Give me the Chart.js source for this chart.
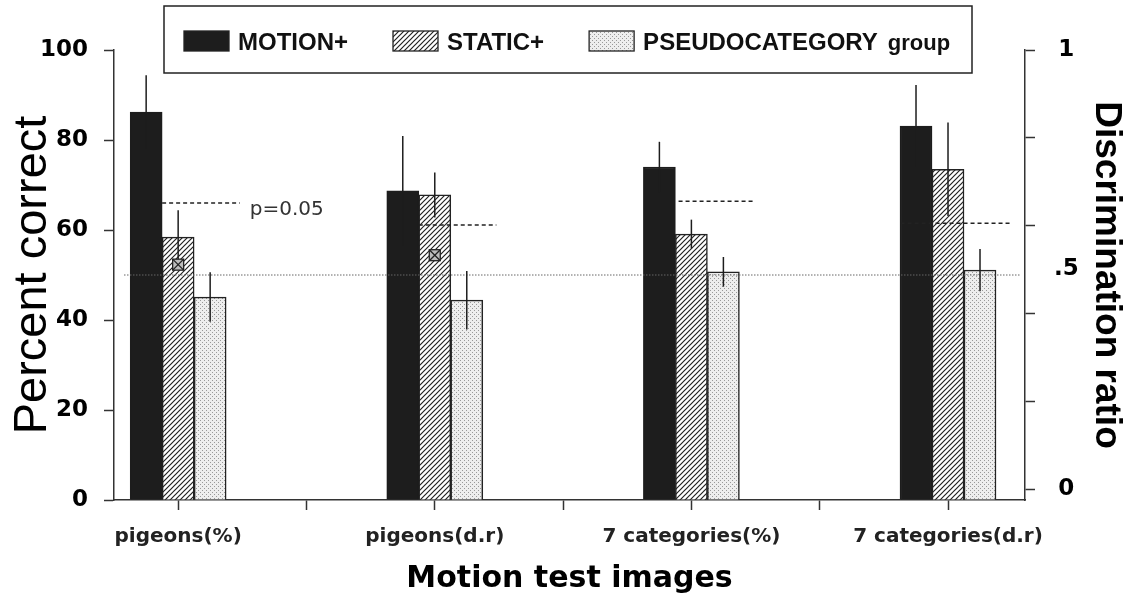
<!DOCTYPE html>
<html lang="en">
<head>
<meta charset="UTF-8">
<title>Motion test images</title>
<script src="https://cdn.jsdelivr.net/npm/chart.js"></script>
<style>
  html, body { margin: 0; padding: 0; background: #fff; }
</style>
</head>
<body>
<canvas id="chart" width="1140" height="601"></canvas>
<script>
// values (percent axis units)
const categories = ['pigeons(%)', 'pigeons(d.r)', '7 categories(%)', '7 categories(d.r)'];
const motionPlus = [86.2, 68.7, 74.0, 83.1];
const motionErr = [8.2, 12.2, 5.6, 9.1];
const staticPlus = [58.4, 67.8, 59.1, 73.5];
const staticErr = [6.0, 5.0, 3.2, 10.4];
const pseudoGroup = [45.1, 44.4, 50.7, 51.1];
const pseudoErr = [5.5, 6.5, 3.3, 4.7];
const pCritical = [66.0, 61.1, 66.4, 61.5];
const staticMarks = [52.3, 54.4, null, null];
const chanceLevel = 50;
const leftTicks = [0, 20, 40, 60, 80, 100];
const rightTicks = [0, 0.2, 0.4, 0.5, 0.6, 0.8, 1];
const rightLabels = { 0: '0', 0.5: '.5', 1: '1' };

const ctx = document.getElementById('chart').getContext('2d');

// fills for the two patterned bars
function makeHatch() {
    const c = document.createElement('canvas');
    c.width = 5; c.height = 5;
    const g = c.getContext('2d');
    g.fillStyle = '#fff';
    g.fillRect(0, 0, 5, 5);
    g.strokeStyle = '#222';
    g.lineWidth = 1.2;
    g.beginPath();
    g.moveTo(-1, 6); g.lineTo(6, -1);
    g.moveTo(-1, 1); g.lineTo(1, -1);
    g.moveTo(4, 6); g.lineTo(6, 4);
    g.stroke();
    return ctx.createPattern(c, 'repeat');
}

function makeDots() {
    const c = document.createElement('canvas');
    c.width = 4; c.height = 4;
    const g = c.getContext('2d');
    g.fillStyle = '#eeeeee';
    g.fillRect(0, 0, 4, 4);
    g.fillStyle = '#999';
    g.fillRect(0, 0, 1, 1);
    g.fillRect(2, 2, 1, 1);
    return ctx.createPattern(c, 'repeat');
}

const hatch = makeHatch();
const dots = makeDots();

// groups sit on every second slot of the x axis
const toPoints = vals => vals.map((v, i) => ({ x: i * 2, y: v }));
const slotTicks = Array.from({ length: categories.length * 2 - 1 }, (_, i) => i);

// where each p=0.05 dash starts, in slot units from the group centre
const dashFrom = [-0.125, -0.125, -0.1, -0.37];

function line(c, x1, y1, x2, y2) {
    c.beginPath();
    c.moveTo(x1, y1);
    c.lineTo(x2, y2);
    c.stroke();
}

const overlay = {
    id: 'overlay',
    beforeDraw(chart) {
        const c = chart.ctx;
        c.save();
        c.fillStyle = '#fff';
        c.fillRect(0, 0, chart.width, chart.height);
        c.restore();
    },
    afterDatasetsDraw(chart) {
        const c = chart.ctx;
        const area = chart.chartArea;
        const x = chart.scales.x, y = chart.scales.y;
        const unit = x.getPixelForValue(1) - x.getPixelForValue(0);
        c.save();

        // chance level
        c.strokeStyle = '#666';
        c.lineWidth = 1;
        c.setLineDash([1.5, 1.5]);
        const yc = y.getPixelForValue(chanceLevel);
        line(c, area.left + 10, yc, area.right - 4, yc);

        // p = 0.05 criteria
        c.strokeStyle = '#222';
        c.lineWidth = 1.5;
        c.setLineDash([4, 3]);
        pCritical.forEach((v, i) => {
            const cx = x.getPixelForValue(i * 2);
            const yp = y.getPixelForValue(v);
            line(c, cx + dashFrom[i] * unit, yp, cx + 0.48 * unit, yp);
        });
        c.setLineDash([]);
        c.fillStyle = '#333';
        c.font = '20px "DejaVu Sans"';
        c.textAlign = 'left';
        c.textBaseline = 'alphabetic';
        c.fillText('p=0.05', x.getPixelForValue(0) + 0.48 * unit + 10, y.getPixelForValue(pCritical[0]) + 12);

        // error bars
        c.strokeStyle = '#1d1d1d';
        c.lineWidth = 1.5;
        chart.data.datasets.forEach((ds, di) => {
            chart.getDatasetMeta(di).data.forEach((bar, i) => {
                const v = ds.data[i].y, e = ds.errors[i];
                line(c, bar.x, y.getPixelForValue(v + e), bar.x, y.getPixelForValue(v - e));
            });
        });

        // small boxed crosses on the STATIC+ bars
        const staticMeta = chart.getDatasetMeta(1);
        staticMarks.forEach((v, i) => {
            if (v === null) return;
            const px = staticMeta.data[i].x, py = y.getPixelForValue(v);
            const h = 5.5;
            c.fillStyle = '#bdbdbd';
            c.fillRect(px - h, py - h, 2 * h, 2 * h);
            c.strokeStyle = '#222';
            c.lineWidth = 1.3;
            c.strokeRect(px - h, py - h, 2 * h, 2 * h);
            line(c, px - h, py - h, px + h, py + h);
            line(c, px - h, py + h, px + h, py - h);
        });
        c.restore();
    },
    afterDraw(chart) {
        // boxed legend across the top
        const c = chart.ctx;
        const box = { left: 164, top: 6, right: 972, bottom: 73 };
        c.save();
        c.fillStyle = '#fff';
        c.fillRect(box.left, box.top, box.right - box.left, box.bottom - box.top);
        c.strokeStyle = '#222';
        c.lineWidth = 1.5;
        c.strokeRect(box.left, box.top, box.right - box.left, box.bottom - box.top);
        let xp = box.left + 20;
        c.textAlign = 'left';
        c.textBaseline = 'alphabetic';
        chart.data.datasets.forEach(ds => {
            c.fillStyle = ds.backgroundColor;
            c.fillRect(xp, 31, 45, 20);
            c.lineWidth = 1.3;
            c.strokeRect(xp, 31, 45, 20);
            xp += 54;
            const words = ds.label.split(' ');
            c.fillStyle = '#111';
            c.font = 'bold 24px "Liberation Sans"';
            c.fillText(words[0], xp, 50);
            xp += c.measureText(words[0]).width;
            if (words.length > 1) {
                const rest = words.slice(1).join(' ');
                c.font = 'bold 22px "Liberation Sans"';
                xp += 10;
                c.fillText(rest, xp, 50);
                xp += c.measureText(rest).width;
            }
            xp += 45;
        });
        c.restore();
    }
};

new Chart(ctx, {
    type: 'bar',
    data: {
        datasets: [
            { label: 'MOTION+', data: toPoints(motionPlus), errors: motionErr,
              backgroundColor: '#1d1d1d', borderColor: '#1d1d1d', borderWidth: 1.5, barThickness: 32 },
            { label: 'STATIC+', data: toPoints(staticPlus), errors: staticErr,
              backgroundColor: hatch, borderColor: '#222', borderWidth: 1.5, barThickness: 32 },
            { label: 'PSEUDOCATEGORY group', data: toPoints(pseudoGroup), errors: pseudoErr,
              backgroundColor: dots, borderColor: '#222', borderWidth: 1.5, barThickness: 32 }
        ]
    },
    options: {
        responsive: false,
        animation: false,
        layout: { padding: { top: 50 } },
        plugins: { legend: { display: false }, tooltip: { enabled: false } },
        scales: {
            x: {
                type: 'linear',
                min: -0.5,
                max: 6.6,
                offset: false,
                afterBuildTicks: s => { s.ticks = slotTicks.map(v => ({ value: v })); },
                afterFit: s => { s.height = 101; },
                ticks: {
                    autoSkip: false, maxRotation: 0, padding: 15, color: '#222',
                    font: { family: 'DejaVu Sans', size: 20, weight: 'bold' },
                    callback: v => (v % 2 === 0 ? categories[v / 2] : '')
                },
                grid: { drawOnChartArea: false, tickLength: 10, tickColor: '#333', tickWidth: 1.5, offset: false },
                border: { color: '#333', width: 1.5 },
                title: {
                    display: true, text: 'Motion test images', color: '#000',
                    font: { family: 'DejaVu Sans', size: 30, weight: 'bold' },
                    padding: { top: 0, bottom: 4 }
                }
            },
            y: {
                position: 'left',
                min: 0,
                max: 100,
                afterBuildTicks: s => { s.ticks = leftTicks.map(v => ({ value: v })); },
                afterFit: s => { s.width = 114; },
                ticks: { padding: 16, color: '#000', font: { family: 'DejaVu Sans', size: 23, weight: 'bold' } },
                grid: { drawOnChartArea: false, tickLength: 10, tickColor: '#333', tickWidth: 1.5 },
                border: { color: '#333', width: 1.5 },
                title: {
                    display: true, text: 'Percent correct', color: '#000',
                    font: { family: 'Liberation Sans', size: 47 },
                    padding: { top: 5, bottom: 0 }
                }
            },
            y2: {
                position: 'right',
                min: -0.025,
                max: 1,
                afterBuildTicks: s => { s.ticks = rightTicks.map(v => ({ value: v })); },
                afterFit: s => { s.width = 115; },
                ticks: {
                    padding: 19, crossAlign: 'center', color: '#000',
                    font: { family: 'DejaVu Sans', size: 23, weight: 'bold' },
                    callback: v => (rightLabels[v] !== undefined ? rightLabels[v] : '')
                },
                grid: {
                    drawOnChartArea: false, tickLength: 10, tickWidth: 1.5,
                    tickColor: c => (c.tick && c.tick.value === 0.5 ? 'rgba(0,0,0,0)' : '#333')
                },
                border: { color: '#333', width: 1.5 },
                title: {
                    display: true, text: 'Discrimination ratio', color: '#000',
                    font: { family: 'Liberation Sans', size: 37, weight: 'bold' },
                    padding: { top: 12, bottom: 0 }
                }
            }
        }
    },
    plugins: [overlay]
});
</script>
</body>
</html>
